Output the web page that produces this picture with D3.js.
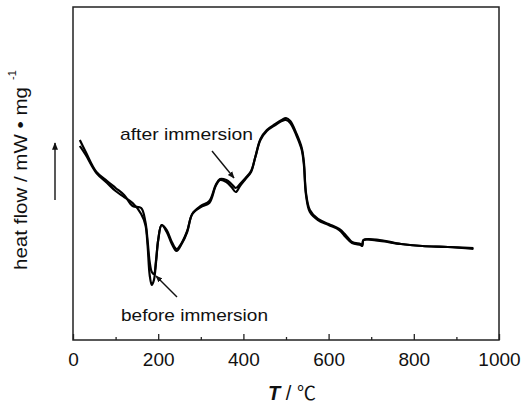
<!DOCTYPE html>
<html><head><meta charset="utf-8">
<script src="https://cdn.jsdelivr.net/npm/d3@7"></script>
<style>body{margin:0;background:#fff}svg{display:block}text{font-family:"Liberation Sans",Arial,sans-serif}</style>
</head><body><svg id="c" width="526" height="405"></svg>
<script>
// temperature (°C)
const temps = [16,30,55,80,100,120,140,160,170,175,180,185,190,195,200,208,220,232,243,255,268,280,300,320,335,345,360,372,382,392,405,418,428,440,455,475,490,500,510,525,537,542,547,556,575,600,625,640,655,675,679,682,720,770,820,880,940];
// heat flow (arbitrary units, exo up)
const beforeImmersion = [194,185,167,157,149,143,137,126,115,95,65,55,60,78,100,115,108,96,89,96,108,126,133,137,154,160,158,153,148,154,161,168,183,200,209,215,219,220,217,204,190,175,145,128,120,115,110,103,97,95,94,100,99,96,94,93,92];
const afterImmersion  = [200,188,168,159,152,145,134,132,118,100,78,68,66,80,100,115,110,98,91,97,109,126,134,139,155,161,160,156,152,156,162,169,183,201,210,216,220,222,219,206,192,178,147,130,121,116,111,105,98,96,95,100,100,96,94,93,91];
const xTicks = [0,200,400,600,800,1000];
const xMinor = [100,300,500,700,900];

const svg = d3.select("#c");
const L=73,R=499,T=7,B=340;
const x = d3.scaleLinear().domain([0,1000]).range([L,R]);
const y = d3.scaleLinear().domain([0,333]).range([B,T]);

// frame
svg.append("rect").attr("x",L).attr("y",T).attr("width",R-L).attr("height",B-T)
  .attr("fill","none").attr("stroke","#222").attr("stroke-width",1.5);

// x axis
const ax = svg.append("g").attr("transform",`translate(0,${B})`)
  .call(d3.axisBottom(x).tickValues(xTicks).tickSize(-6).tickPadding(13).tickFormat(d3.format("d")));
ax.select(".domain").remove();
ax.selectAll("line").attr("stroke","#222").attr("stroke-width",1.3);
ax.selectAll("text").attr("font-size",19).attr("fill","#111").attr("dy","0.71em");
const axm = svg.append("g").attr("transform",`translate(0,${B})`)
  .call(d3.axisBottom(x).tickValues(xMinor).tickSize(-3).tickFormat(""));
axm.select(".domain").remove();
axm.selectAll("line").attr("stroke","#222").attr("stroke-width",1.3);

// x title
const xt = svg.append("text").attr("x",292).attr("y",400).attr("text-anchor","middle").attr("font-size",20).attr("fill","#111");
xt.append("tspan").attr("font-style","italic").attr("font-weight","bold").text("T");
xt.append("tspan").text(" / ");
xt.append("tspan").attr("font-family","Noto Sans CJK SC").attr("font-size",19).text("℃");

// y title
svg.append("text").attr("transform","translate(27,270) rotate(-90)")
  .attr("font-size",19).attr("fill","#111")
  .attr("textLength",183).attr("lengthAdjust","spacingAndGlyphs").text("heat flow / mW • mg");
svg.append("text").attr("transform","translate(16,80) rotate(-90)")
  .attr("font-size",11).attr("fill","#111").text("-1");

// defs for arrowheads
const defs = svg.append("defs");
defs.append("marker").attr("id","ah").attr("viewBox","0 0 10 10").attr("refX",9).attr("refY",5)
  .attr("markerWidth",5).attr("markerHeight",5).attr("orient","auto-start-reverse")
  .append("path").attr("d","M0,1 L10,5 L0,9 z").attr("fill","#111");

// left arrow
svg.append("line").attr("x1",55).attr("y1",200).attr("x2",55).attr("y2",143)
  .attr("stroke","#222").attr("stroke-width",1.5).attr("marker-end","url(#ah)");

// curves
const line = d3.line().x((d,i)=>x(temps[i])).y(d=>y(d)).curve(d3.curveCatmullRom.alpha(0.5));
[beforeImmersion, afterImmersion].forEach(s=>{
  svg.append("path").datum(s).attr("d",line).attr("fill","none")
    .attr("stroke","#000").attr("stroke-width",2.2).attr("stroke-linejoin","round");
});

// annotations
svg.append("text").attr("x",120).attr("y",140).attr("font-size",17).attr("fill","#111")
  .attr("textLength",133).attr("lengthAdjust","spacingAndGlyphs").text("after immersion");
svg.append("line").attr("x1",212).attr("y1",151).attr("x2",234).attr("y2",178)
  .attr("stroke","#111").attr("stroke-width",1.4).attr("marker-end","url(#ah)");
svg.append("text").attr("x",121).attr("y",321).attr("font-size",17).attr("fill","#111")
  .attr("textLength",147).attr("lengthAdjust","spacingAndGlyphs").text("before immersion");
svg.append("line").attr("x1",177).attr("y1",297).attr("x2",156).attr("y2",276)
  .attr("stroke","#111").attr("stroke-width",1.4).attr("marker-end","url(#ah)");
</script></body></html>
